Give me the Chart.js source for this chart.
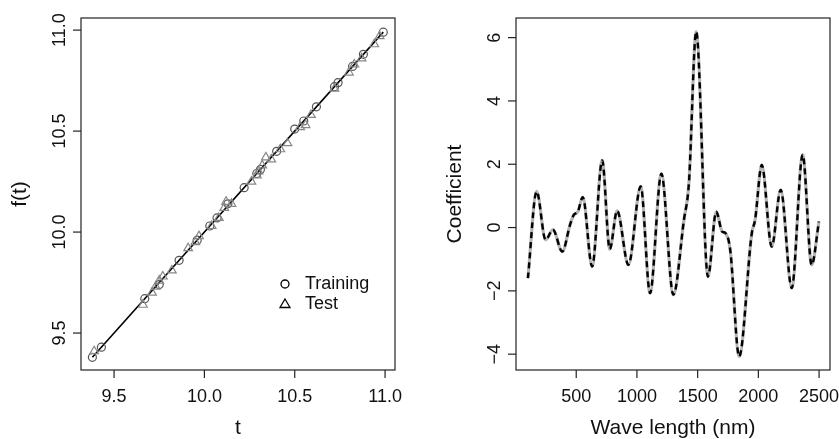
<!DOCTYPE html>
<html>
<head>
<meta charset="utf-8">
<script src="https://cdn.jsdelivr.net/npm/chart.js@4"></script>
<style>
  html, body { margin: 0; padding: 0; background: #fff; }
  #wrap { position: relative; width: 839px; height: 439px; }
  canvas { position: absolute; top: 0; }
  #left { left: 0; }
  #right { left: 420px; }
</style>
</head>
<body>
<div id="wrap">
  <canvas id="left" width="420" height="439"></canvas>
  <canvas id="right" width="419" height="439"></canvas>
</div>
<script>
// left panel: fitted line and the two sets of points
const fitT = [9.38, 10.99];
const fitF = [9.38, 10.99];
const trainT = [9.38, 9.43, 9.67, 9.75, 9.86, 9.96, 10.03, 10.07, 10.13, 10.22, 10.29, 10.31, 10.40, 10.50, 10.55, 10.62, 10.72, 10.74, 10.82, 10.88, 10.99];
const trainF = [9.38, 9.43, 9.67, 9.74, 9.86, 9.96, 10.03, 10.07, 10.14, 10.22, 10.29, 10.31, 10.40, 10.51, 10.55, 10.62, 10.72, 10.74, 10.82, 10.88, 10.99];
const testT = [9.39, 9.66, 9.71, 9.73, 9.75, 9.77, 9.82, 9.91, 9.95, 9.97, 10.04, 10.08, 10.11, 10.12, 10.15, 10.26, 10.29, 10.30, 10.32, 10.34, 10.37, 10.42, 10.46, 10.53, 10.56, 10.59, 10.72, 10.80, 10.83, 10.87, 10.94, 10.97];
const testF = [9.41, 9.64, 9.70, 9.73, 9.76, 9.78, 9.81, 9.92, 9.95, 9.98, 10.03, 10.07, 10.12, 10.15, 10.14, 10.25, 10.28, 10.30, 10.33, 10.37, 10.36, 10.41, 10.44, 10.52, 10.53, 10.58, 10.71, 10.79, 10.83, 10.86, 10.93, 10.97];
const leftXTicks = [9.5, 10.0, 10.5, 11.0];
const leftYTicks = [9.5, 10.0, 10.5, 11.0];

// right panel: coefficient curve
const waveLength = [102, 174, 248, 308, 385, 450, 480, 513, 554, 631, 714, 776, 837, 930, 1031, 1108, 1201, 1300, 1387, 1428, 1488, 1585, 1653, 1702, 1727, 1768, 1842, 1946, 1973, 2028, 2110, 2184, 2275, 2365, 2439, 2499];
const coefficient = [-1.6, 1.14, -0.39, -0.07, -0.76, 0.1, 0.4, 0.5, 0.96, -1.23, 2.12, -0.68, 0.53, -1.18, 1.3, -2.07, 1.7, -2.12, 0.24, 1.4, 6.19, -1.55, 0.5, -0.13, -0.17, -0.7, -4.07, -0.18, 0.24, 1.98, -0.6, 1.19, -1.91, 2.3, -1.18, 0.19];
const rightXTicks = [500, 1000, 1500, 2000, 2500];
const rightYTicks = [-4, -2, 0, 2, 4, 6];

const FONT = '"Liberation Sans", Arial, Helvetica, sans-serif';
const toXY = (xs, ys) => xs.map((v, i) => ({x: v, y: ys[i]}));

// R-style box, outside ticks and rotated y labels
const rAxes = {
    id: 'rAxes',
    afterDraw(chart, args, opts) {
        const ctx = chart.ctx;
        const a = chart.chartArea;
        const xs = chart.scales.x, ys = chart.scales.y;
        ctx.save();
        ctx.strokeStyle = '#222';
        ctx.fillStyle = '#111';
        ctx.lineWidth = 1.2;
        ctx.strokeRect(a.left, a.top, a.right - a.left, a.bottom - a.top);

        ctx.font = '18px ' + FONT;
        ctx.textAlign = 'center';
        ctx.textBaseline = 'alphabetic';
        opts.xTicks.forEach(v => {
            const px = xs.getPixelForValue(v);
            ctx.beginPath();
            ctx.moveTo(px, a.bottom);
            ctx.lineTo(px, a.bottom + 8);
            ctx.stroke();
            ctx.fillText(opts.xFmt(v), px, a.bottom + 32);
        });
        opts.yTicks.forEach(v => {
            const py = ys.getPixelForValue(v);
            ctx.beginPath();
            ctx.moveTo(a.left - 8, py);
            ctx.lineTo(a.left, py);
            ctx.stroke();
            ctx.save();
            ctx.translate(a.left - 16, py);
            ctx.rotate(-Math.PI / 2);
            ctx.fillText(opts.yFmt(v), 0, 0);
            ctx.restore();
        });

        ctx.font = '21px ' + FONT;
        ctx.fillText(opts.xTitle, (a.left + a.right) / 2, a.bottom + 64);
        ctx.save();
        ctx.translate(a.left - 55, (a.top + a.bottom) / 2);
        ctx.rotate(-Math.PI / 2);
        ctx.fillText(opts.yTitle, 0, 0);
        ctx.restore();

        if (opts.legend) {
            const lx = a.right - 110, ly = a.top + 266;
            ctx.strokeStyle = '#000';
            ctx.lineWidth = 1.3;
            ctx.beginPath();
            ctx.arc(lx, ly, 4, 0, Math.PI * 2);
            ctx.stroke();
            const ty = ly + 20;
            ctx.beginPath();
            ctx.moveTo(lx, ty - 5);
            ctx.lineTo(lx + 5, ty + 3.5);
            ctx.lineTo(lx - 5, ty + 3.5);
            ctx.closePath();
            ctx.stroke();
            ctx.font = '18px ' + FONT;
            ctx.textAlign = 'left';
            ctx.textBaseline = 'middle';
            ctx.fillText('Training', lx + 20, ly);
            ctx.fillText('Test', lx + 20, ty);
        }
        ctx.restore();
    }
};

Chart.defaults.font.family = FONT;

const leftChart = new Chart(document.getElementById('left').getContext('2d'), {
    type: 'scatter',
    data: {
        datasets: [{
            label: 'Test',
            data: toXY(testT, testF),
            pointStyle: 'triangle',
            pointRadius: 5,
            borderColor: '#888',
            backgroundColor: 'rgba(0,0,0,0)',
            borderWidth: 1.2
        }, {
            label: 'Training',
            data: toXY(trainT, trainF),
            pointStyle: 'circle',
            pointRadius: 4,
            borderColor: '#555',
            backgroundColor: 'rgba(0,0,0,0)',
            borderWidth: 1.2
        }, {
            label: 'fit',
            data: toXY(fitT, fitF),
            showLine: true,
            pointRadius: 0,
            borderColor: '#000',
            borderWidth: 1.6
        }]
    },
    options: {
        responsive: false,
        animation: false,
        devicePixelRatio: 1,
        layout: { padding: { left: 81, right: 25, top: 18, bottom: 69 } },
        scales: {
            x: { type: 'linear', min: 9.317, max: 11.055, display: false },
            y: { type: 'linear', min: 9.317, max: 11.06, display: false }
        },
        plugins: {
            legend: { display: false },
            tooltip: { enabled: false },
            rAxes: {
                xTicks: leftXTicks, yTicks: leftYTicks,
                xFmt: v => v.toFixed(1), yFmt: v => v.toFixed(1),
                xTitle: 't', yTitle: 'f(t)', legend: true
            }
        }
    },
    plugins: [rAxes]
});

const rightChart = new Chart(document.getElementById('right').getContext('2d'), {
    type: 'scatter',
    data: {
        datasets: [{
            label: 'base',
            data: toXY(waveLength, coefficient),
            showLine: true,
            pointRadius: 0,
            borderColor: '#b4b4b4',
            borderWidth: 3.2,
            cubicInterpolationMode: 'monotone',
            order: 2
        }, {
            label: 'coef',
            data: toXY(waveLength, coefficient),
            showLine: true,
            pointRadius: 0,
            borderColor: '#000',
            borderWidth: 2.4,
            borderDash: [6, 4],
            cubicInterpolationMode: 'monotone',
            order: 1
        }]
    },
    options: {
        responsive: false,
        animation: false,
        devicePixelRatio: 1,
        layout: { padding: { left: 96, right: 9, top: 18, bottom: 69 } },
        scales: {
            x: { type: 'linear', min: 4, max: 2590, display: false },
            y: { type: 'linear', min: -4.5, max: 6.62, display: false }
        },
        plugins: {
            legend: { display: false },
            tooltip: { enabled: false },
            rAxes: {
                xTicks: rightXTicks, yTicks: rightYTicks,
                xFmt: v => String(v), yFmt: v => (v < 0 ? '\u2212' + Math.abs(v) : String(v)),
                xTitle: 'Wave length (nm)', yTitle: 'Coefficient', legend: false
            }
        }
    },
    plugins: [rAxes]
});
</script>
</body>
</html>
